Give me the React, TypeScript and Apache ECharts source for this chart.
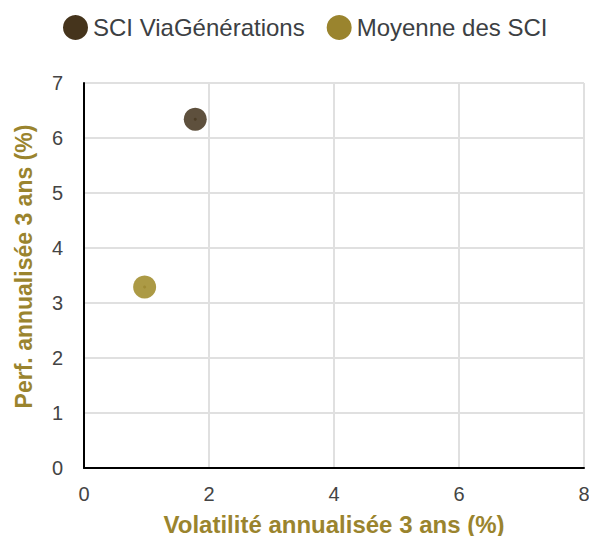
import React, { useEffect, useRef } from "react";
import * as echarts from "echarts";

const seriesNames = ["SCI ViaGénérations", "Moyenne des SCI"];
const volatility = [1.78, 0.97];
const performance = [6.34, 3.29];
const legendColors = ["#45341c", "#9a842e"];
const pointColors = ["#5e503d", "#ac9a45"];
const xTicks = [0, 2, 4, 6, 8];
const yTicks = [0, 1, 2, 3, 4, 5, 6, 7];

export default function App() {
  const ref = useRef<HTMLDivElement>(null);
  useEffect(() => {
    if (!ref.current) return;
    document.body.style.margin = "0";
    document.body.style.overflow = "hidden";
    const chart = echarts.init(ref.current, null, { renderer: "svg", width: 589, height: 536 });
    const font = "'Liberation Sans', Arial, sans-serif";
    const series: any[] = [];
    seriesNames.forEach((name, i) => {
      series.push({
        type: "scatter",
        name,
        data: [[volatility[i], performance[i]]],
        symbolSize: 23,
        itemStyle: { color: pointColors[i], opacity: 1 },
        z: 2,
      });
    });
    seriesNames.forEach((name, i) => {
      series.push({
        type: "scatter",
        name,
        data: [[volatility[i], performance[i]]],
        symbolSize: 3,
        itemStyle: { color: legendColors[i], opacity: 0.7 },
        z: 3,
        silent: true,
      });
    });
    chart.setOption({
      animation: false,
      textStyle: { fontFamily: font },
      color: legendColors,
      legend: {
        data: seriesNames.map((n, i) => ({ name: n, itemStyle: { color: legendColors[i] } })),
        top: 10,
        left: 58,
        icon: "circle",
        itemWidth: 25,
        itemHeight: 25,
        itemGap: 22,
        textStyle: { fontSize: 24, color: "#3c4043", fontFamily: font },
      },
      grid: { left: 84, right: 5, top: 83, bottom: 68, containLabel: false, outerBoundsMode: "none" },
      xAxis: {
        type: "value",
        min: xTicks[0],
        max: xTicks[xTicks.length - 1],
        interval: 2,
        name: "Volatilité annualisée 3 ans (%)",
        nameLocation: "middle",
        nameGap: 44,
        nameTextStyle: { color: "#9a842e", fontSize: 24, fontWeight: "bold", fontFamily: font },
        axisLine: { show: true, lineStyle: { color: "#000", width: 2 } },
        axisTick: { show: false },
        axisLabel: { color: "#444", fontSize: 20, margin: 16, fontFamily: font },
        splitLine: { show: true, lineStyle: { color: "#e0e0e0", width: 2 } },
      },
      yAxis: {
        type: "value",
        min: yTicks[0],
        max: yTicks[yTicks.length - 1],
        interval: 1,
        name: "Perf. annualisée 3 ans (%)",
        nameLocation: "middle",
        nameGap: 49,
        nameTextStyle: { color: "#9a842e", fontSize: 23, fontWeight: "bold", fontFamily: font, padding: [0, 0, 0, 18] },
        axisLine: { show: true, lineStyle: { color: "#000", width: 2 } },
        axisTick: { show: false },
        axisLabel: { color: "#444", fontSize: 20, margin: 21, fontFamily: font },
        splitLine: { show: true, lineStyle: { color: "#e0e0e0", width: 2 } },
      },
      series,
    });
    return () => chart.dispose();
  }, []);
  return <div ref={ref} style={{ width: 589, height: 536, position: "absolute", left: 0, top: 0 }} />;
}
